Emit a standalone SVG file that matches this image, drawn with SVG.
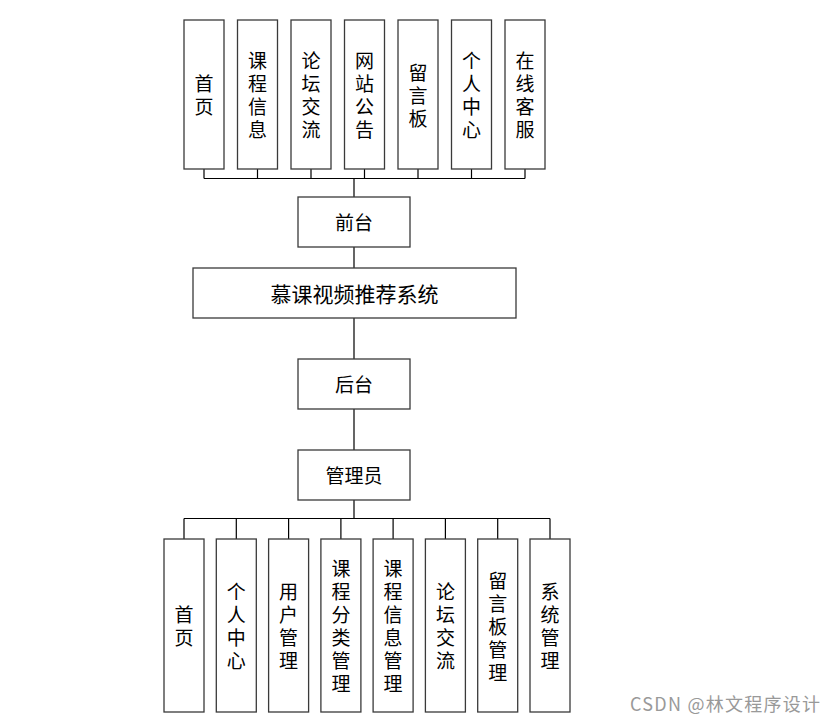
<svg xmlns="http://www.w3.org/2000/svg" width="836" height="723" viewBox="0 0 836 723">
<style>
.box{fill:#fff;stroke:#3a3a3a;stroke-width:1.3}
.t{font-family:"Microsoft YaHei","Noto Sans CJK SC",sans-serif;font-size:19px;fill:#000;text-anchor:middle;dominant-baseline:central}
.big{font-size:21px}
.ln{stroke:#000;stroke-width:1.2;fill:none}
.wm{font-family:"Noto Sans CJK SC",sans-serif;font-size:18px;fill:#999}
</style>
<rect width="836" height="723" fill="#fff"/>
<g id="connectors">
<path class="ln" d="M204 169V178.5M257.5 169V178.5M311 169V178.5M364.5 169V178.5M418 169V178.5M471.5 169V178.5M525 169V178.5M204 178.5H525M354 178.5V197"/>
<path class="ln" d="M354 247V268M354 318V359M354 409V450M354 500V518.5"/>
<path class="ln" d="M184 518.5H550M184 518.5V539M236.3 518.5V539M288.6 518.5V539M340.9 518.5V539M393.1 518.5V539M445.4 518.5V539M497.7 518.5V539M550 518.5V539"/>
</g>
<g id="top1"><rect class="box" x="184" y="20" width="40" height="149"/><text class="t"><tspan x="204" y="82">首</tspan><tspan x="204" y="105">页</tspan></text></g>
<g id="top2"><rect class="box" x="237.5" y="20" width="40" height="149"/><text class="t"><tspan x="257.5" y="59">课</tspan><tspan x="257.5" y="82">程</tspan><tspan x="257.5" y="105">信</tspan><tspan x="257.5" y="128">息</tspan></text></g>
<g id="top3"><rect class="box" x="291" y="20" width="40" height="149"/><text class="t"><tspan x="311" y="59">论</tspan><tspan x="311" y="82">坛</tspan><tspan x="311" y="105">交</tspan><tspan x="311" y="128">流</tspan></text></g>
<g id="top4"><rect class="box" x="344.5" y="20" width="40" height="149"/><text class="t"><tspan x="364.5" y="59">网</tspan><tspan x="364.5" y="82">站</tspan><tspan x="364.5" y="105">公</tspan><tspan x="364.5" y="128">告</tspan></text></g>
<g id="top5"><rect class="box" x="398" y="20" width="40" height="149"/><text class="t"><tspan x="418" y="70.5">留</tspan><tspan x="418" y="93.5">言</tspan><tspan x="418" y="116.5">板</tspan></text></g>
<g id="top6"><rect class="box" x="451.5" y="20" width="40" height="149"/><text class="t"><tspan x="471.5" y="59">个</tspan><tspan x="471.5" y="82">人</tspan><tspan x="471.5" y="105">中</tspan><tspan x="471.5" y="128">心</tspan></text></g>
<g id="top7"><rect class="box" x="505" y="20" width="40" height="149"/><text class="t"><tspan x="525" y="59">在</tspan><tspan x="525" y="82">线</tspan><tspan x="525" y="105">客</tspan><tspan x="525" y="128">服</tspan></text></g>
<g id="qiantai"><rect class="box" x="298" y="197" width="112" height="50"/><text class="t" x="354" y="221.5">前台</text></g>
<g id="system"><rect class="box" x="193" y="268" width="323" height="50"/><text class="t big" x="354.5" y="292.5">慕课视频推荐系统</text></g>
<g id="houtai"><rect class="box" x="298" y="359" width="112" height="50"/><text class="t" x="354" y="383.5">后台</text></g>
<g id="admin"><rect class="box" x="298" y="450" width="112" height="50"/><text class="t" x="354" y="474.5">管理员</text></g>
<g id="b1"><rect class="box" x="164" y="539" width="40" height="173"/><text class="t"><tspan x="184" y="613">首</tspan><tspan x="184" y="636">页</tspan></text></g>
<g id="b2"><rect class="box" x="216.3" y="539" width="40" height="173"/><text class="t"><tspan x="236.3" y="590">个</tspan><tspan x="236.3" y="613">人</tspan><tspan x="236.3" y="636">中</tspan><tspan x="236.3" y="659">心</tspan></text></g>
<g id="b3"><rect class="box" x="268.6" y="539" width="40" height="173"/><text class="t"><tspan x="288.6" y="590">用</tspan><tspan x="288.6" y="613">户</tspan><tspan x="288.6" y="636">管</tspan><tspan x="288.6" y="659">理</tspan></text></g>
<g id="b4"><rect class="box" x="320.9" y="539" width="40" height="173"/><text class="t"><tspan x="340.9" y="567">课</tspan><tspan x="340.9" y="590">程</tspan><tspan x="340.9" y="613">分</tspan><tspan x="340.9" y="636">类</tspan><tspan x="340.9" y="659">管</tspan><tspan x="340.9" y="682">理</tspan></text></g>
<g id="b5"><rect class="box" x="373.1" y="539" width="40" height="173"/><text class="t"><tspan x="393.1" y="567">课</tspan><tspan x="393.1" y="590">程</tspan><tspan x="393.1" y="613">信</tspan><tspan x="393.1" y="636">息</tspan><tspan x="393.1" y="659">管</tspan><tspan x="393.1" y="682">理</tspan></text></g>
<g id="b6"><rect class="box" x="425.4" y="539" width="40" height="173"/><text class="t"><tspan x="445.4" y="590">论</tspan><tspan x="445.4" y="613">坛</tspan><tspan x="445.4" y="636">交</tspan><tspan x="445.4" y="659">流</tspan></text></g>
<g id="b7"><rect class="box" x="477.7" y="539" width="40" height="173"/><text class="t"><tspan x="497.7" y="578.5">留</tspan><tspan x="497.7" y="601.5">言</tspan><tspan x="497.7" y="624.5">板</tspan><tspan x="497.7" y="647.5">管</tspan><tspan x="497.7" y="670.5">理</tspan></text></g>
<g id="b8"><rect class="box" x="530" y="539" width="40" height="173"/><text class="t"><tspan x="550" y="590">系</tspan><tspan x="550" y="613">统</tspan><tspan x="550" y="636">管</tspan><tspan x="550" y="659">理</tspan></text></g>
<text class="wm" x="630" y="711" textLength="190">CSDN @林文程序设计</text>
</svg>
